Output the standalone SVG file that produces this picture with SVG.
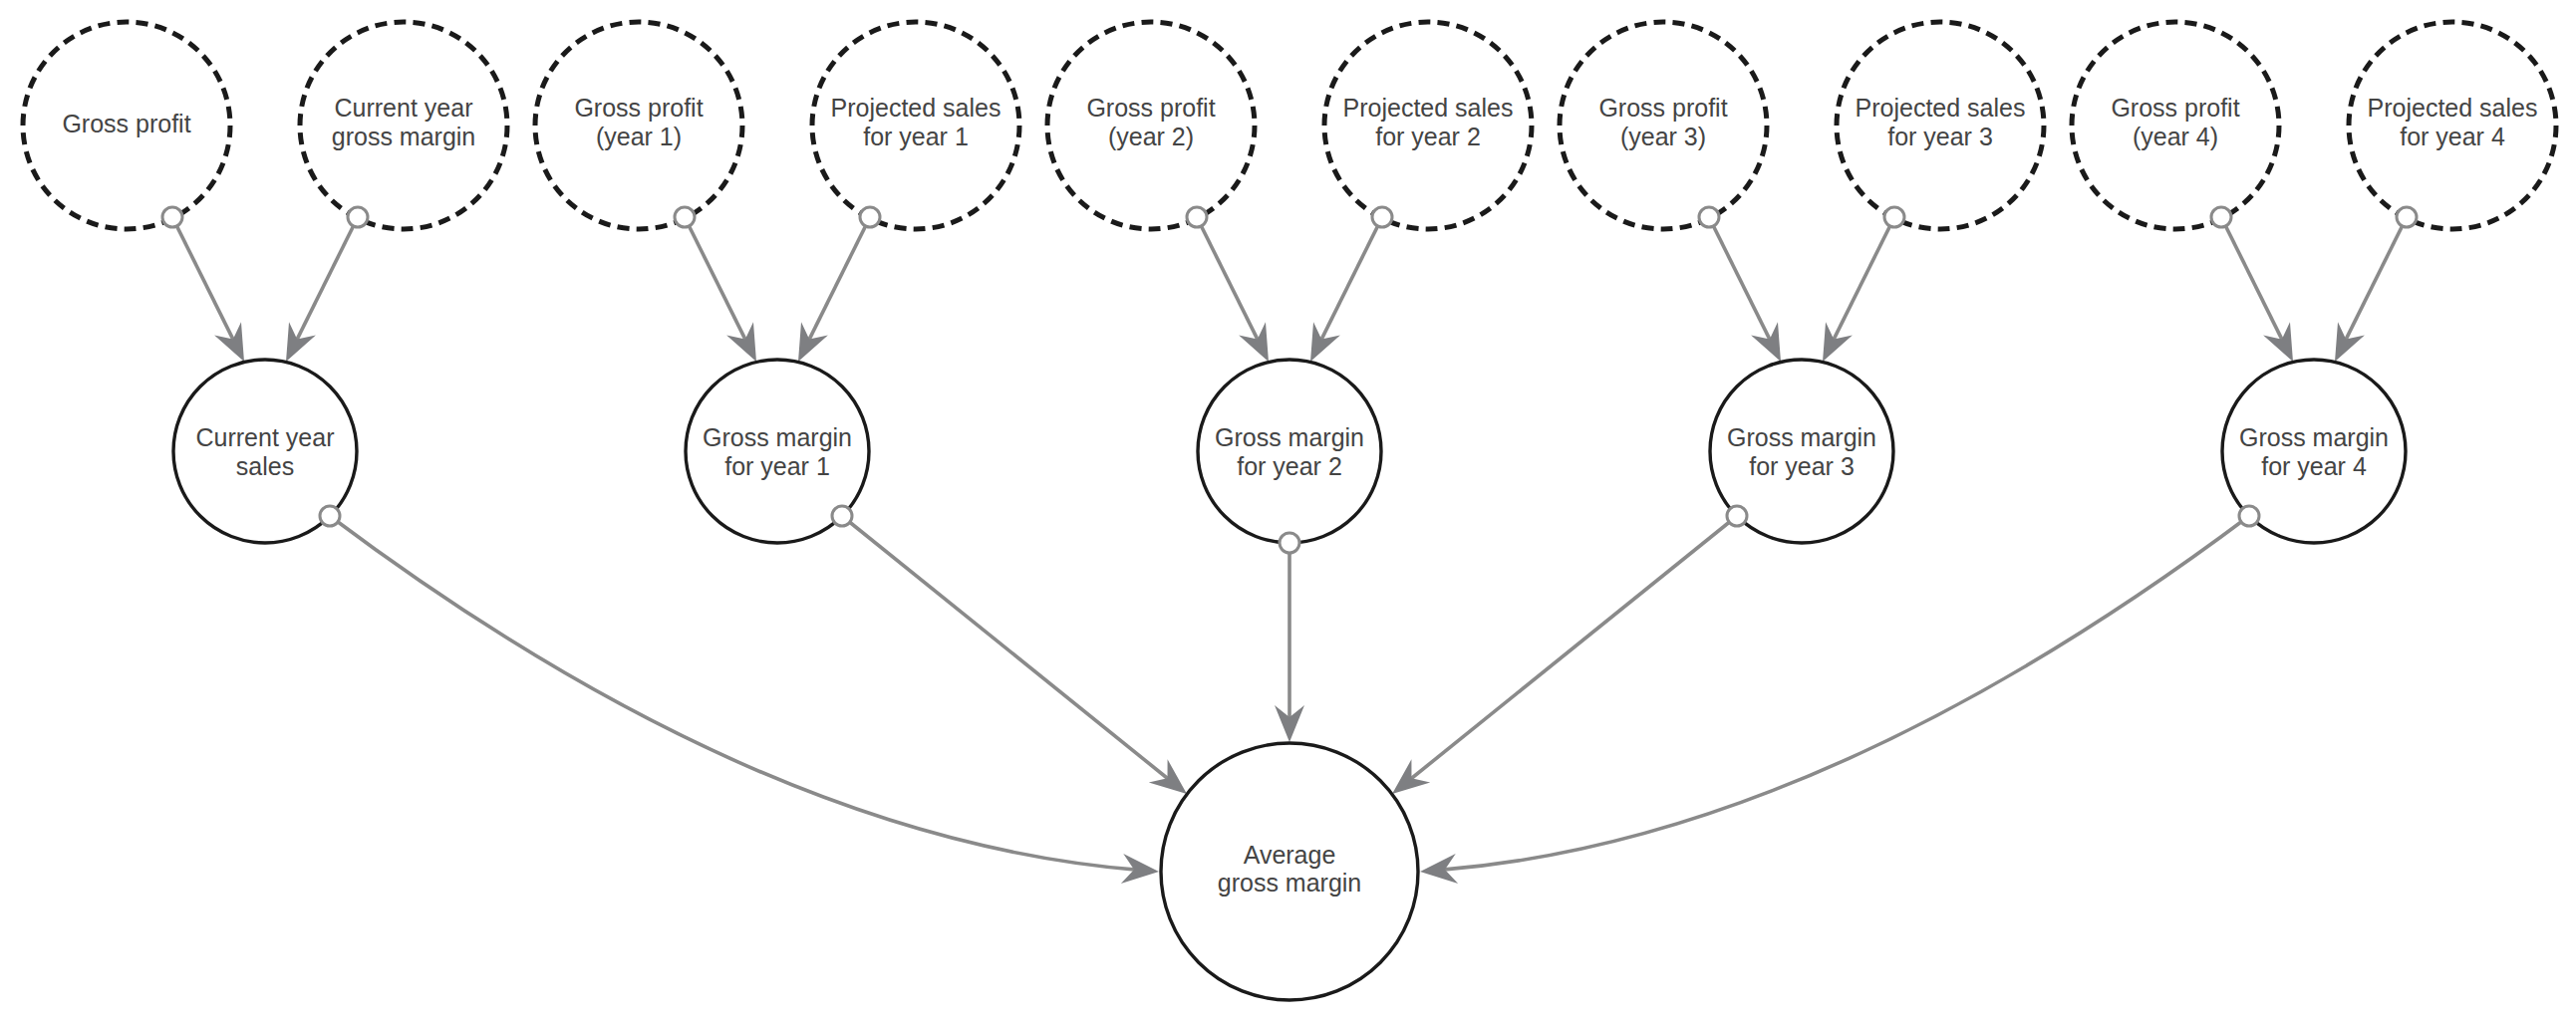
<svg xmlns="http://www.w3.org/2000/svg" width="2585" height="1029" viewBox="0 0 2585 1029">
<style>
.bg{fill:#ffffff}
.dash{fill:#ffffff;stroke:#1a1a1a;stroke-width:5;stroke-dasharray:12 7.2}
.solid{fill:#ffffff;stroke:#1a1a1a;stroke-width:3.4}
.port{fill:#ffffff;stroke:#8a8a8a;stroke-width:3}
.conn{fill:none;stroke:#8a8a8a;stroke-width:3.6}
text{font-family:"Liberation Sans",Arial,sans-serif;font-size:25px;fill:#444444;text-anchor:middle}
</style>
<defs>
<marker id="arr" viewBox="-40 -17 42 34" markerWidth="42" markerHeight="34" refX="-20" refY="0" orient="auto" markerUnits="userSpaceOnUse">
<path d="M0,0 L-37,-15 L-25,0 L-37,15 Z" fill="#7e7f82"/>
</marker>
</defs>
<rect class="bg" x="0" y="0" width="2585" height="1029"/>

<g id="connectors">
<path class="conn" marker-end="url(#arr)" d="M173,218 L236.1,345.1"/>
<path class="conn" marker-end="url(#arr)" d="M359,218 L295.9,345.1"/>
<path class="conn" marker-end="url(#arr)" d="M687,218 L750.1,345.1"/>
<path class="conn" marker-end="url(#arr)" d="M873,218 L809.9,345.1"/>
<path class="conn" marker-end="url(#arr)" d="M1201,218 L1264.1,345.1"/>
<path class="conn" marker-end="url(#arr)" d="M1387,218 L1323.9,345.1"/>
<path class="conn" marker-end="url(#arr)" d="M1715,218 L1778.1,345.1"/>
<path class="conn" marker-end="url(#arr)" d="M1901,218 L1837.9,345.1"/>
<path class="conn" marker-end="url(#arr)" d="M2229,218 L2292.1,345.1"/>
<path class="conn" marker-end="url(#arr)" d="M2415,218 L2351.9,345.1"/>
<path class="conn" marker-end="url(#arr)" d="M331,518 Q764,843 1143,873.4"/>
<path class="conn" marker-end="url(#arr)" d="M845,518 L1175.4,784.5"/>
<path class="conn" marker-end="url(#arr)" d="M1294,545 L1294,725"/>
<path class="conn" marker-end="url(#arr)" d="M1743,518 L1412.6,784.5"/>
<path class="conn" marker-end="url(#arr)" d="M2257,518 Q1824,843 1445,873.4"/>
</g>

<g id="node-gross-profit">
<circle class="dash" cx="127" cy="126" r="104"/>
<text x="127" y="133">Gross profit</text>
<circle class="port" cx="173" cy="218" r="10"/>
</g>
<g id="node-current-year-gross-margin">
<circle class="dash" cx="405" cy="126" r="104"/>
<text x="405" y="117">Current year</text>
<text x="405" y="146">gross margin</text>
<circle class="port" cx="359" cy="218" r="10"/>
</g>
<g id="node-gross-profit-year-1">
<circle class="dash" cx="641" cy="126" r="104"/>
<text x="641" y="117">Gross profit</text>
<text x="641" y="146">(year 1)</text>
<circle class="port" cx="687" cy="218" r="10"/>
</g>
<g id="node-projected-sales-year-1">
<circle class="dash" cx="919" cy="126" r="104"/>
<text x="919" y="117">Projected sales</text>
<text x="919" y="146">for year 1</text>
<circle class="port" cx="873" cy="218" r="10"/>
</g>
<g id="node-gross-profit-year-2">
<circle class="dash" cx="1155" cy="126" r="104"/>
<text x="1155" y="117">Gross profit</text>
<text x="1155" y="146">(year 2)</text>
<circle class="port" cx="1201" cy="218" r="10"/>
</g>
<g id="node-projected-sales-year-2">
<circle class="dash" cx="1433" cy="126" r="104"/>
<text x="1433" y="117">Projected sales</text>
<text x="1433" y="146">for year 2</text>
<circle class="port" cx="1387" cy="218" r="10"/>
</g>
<g id="node-gross-profit-year-3">
<circle class="dash" cx="1669" cy="126" r="104"/>
<text x="1669" y="117">Gross profit</text>
<text x="1669" y="146">(year 3)</text>
<circle class="port" cx="1715" cy="218" r="10"/>
</g>
<g id="node-projected-sales-year-3">
<circle class="dash" cx="1947" cy="126" r="104"/>
<text x="1947" y="117">Projected sales</text>
<text x="1947" y="146">for year 3</text>
<circle class="port" cx="1901" cy="218" r="10"/>
</g>
<g id="node-gross-profit-year-4">
<circle class="dash" cx="2183" cy="126" r="104"/>
<text x="2183" y="117">Gross profit</text>
<text x="2183" y="146">(year 4)</text>
<circle class="port" cx="2229" cy="218" r="10"/>
</g>
<g id="node-projected-sales-year-4">
<circle class="dash" cx="2461" cy="126" r="104"/>
<text x="2461" y="117">Projected sales</text>
<text x="2461" y="146">for year 4</text>
<circle class="port" cx="2415" cy="218" r="10"/>
</g>

<g id="node-current-year-sales">
<circle class="solid" cx="266" cy="453" r="92"/>
<text x="266" y="448">Current year</text>
<text x="266" y="477">sales</text>
<circle class="port" cx="331" cy="518" r="10"/>
</g>
<g id="node-gross-margin-year-1">
<circle class="solid" cx="780" cy="453" r="92"/>
<text x="780" y="448">Gross margin</text>
<text x="780" y="477">for year 1</text>
<circle class="port" cx="845" cy="518" r="10"/>
</g>
<g id="node-gross-margin-year-2">
<circle class="solid" cx="1294" cy="453" r="92"/>
<text x="1294" y="448">Gross margin</text>
<text x="1294" y="477">for year 2</text>
<circle class="port" cx="1294" cy="545" r="10"/>
</g>
<g id="node-gross-margin-year-3">
<circle class="solid" cx="1808" cy="453" r="92"/>
<text x="1808" y="448">Gross margin</text>
<text x="1808" y="477">for year 3</text>
<circle class="port" cx="1743" cy="518" r="10"/>
</g>
<g id="node-gross-margin-year-4">
<circle class="solid" cx="2322" cy="453" r="92"/>
<text x="2322" y="448">Gross margin</text>
<text x="2322" y="477">for year 4</text>
<circle class="port" cx="2257" cy="518" r="10"/>
</g>

<g id="node-average-gross-margin">
<circle class="solid" cx="1294" cy="875" r="129"/>
<text x="1294" y="867">Average</text>
<text x="1294" y="895">gross margin</text>
</g>
</svg>
